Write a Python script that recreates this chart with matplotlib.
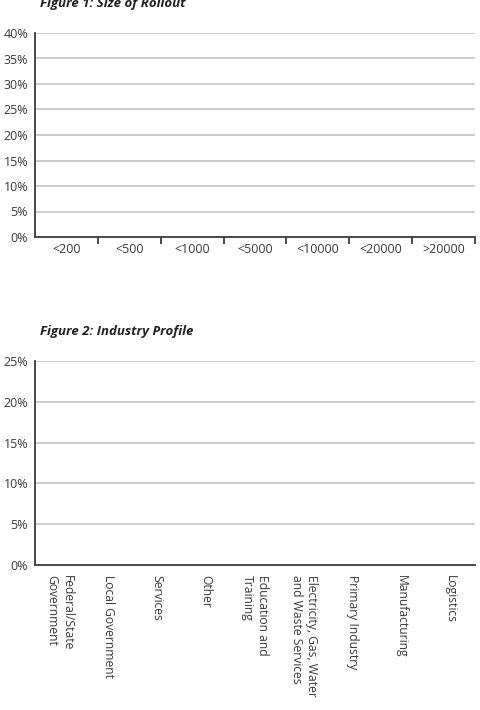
import matplotlib
matplotlib.use("Agg")
import matplotlib.pyplot as plt
import numpy as np

plt.rcParams['font.family'] = ['Open Sans', 'DejaVu Sans']

# Figure 1 data
rollout_categories = ["<200", "<500", "<1000", "<5000", "<10000", "<20000", ">20000"]
rollout_values = [0, 0, 0, 0, 0, 0, 0]
rollout_yticks = [0, 5, 10, 15, 20, 25, 30, 35, 40]

# Figure 2 data
industry_categories = ["Federal/State\nGovernment", "Local Government", "Services", "Other",
                       "Education and\nTraining", "Electricity, Gas, Water\nand Waste Services",
                       "Primary Industry", "Manufacturing", "Logistics"]
industry_values = [0, 0, 0, 0, 0, 0, 0, 0, 0]
industry_yticks = [0, 5, 10, 15, 20, 25]

W, H = 480, 710
fig = plt.figure(figsize=(W / 100, H / 100), dpi=100)

text_col = "#3a3a3a"
spine_col = "#3a3a3a"
grid_col = "#c8c8c8"

def setup(ax, yticks):
    ax.set_ylim(0, yticks[-1])
    ax.set_yticks(yticks)
    ax.set_yticklabels([f"{t}%" for t in yticks], fontsize=9, color=text_col)
    for t in yticks[1:]:
        ax.axhline(t, color=grid_col, lw=1.3, zorder=0)
    for s in ["top", "right"]:
        ax.spines[s].set_visible(False)
    for s in ["left", "bottom"]:
        ax.spines[s].set_color(spine_col)
        ax.spines[s].set_linewidth(1.3)
    ax.tick_params(axis="y", length=0, pad=5)

# Figure 1
ax1 = fig.add_axes([35 / W, 1 - 237 / H, 440 / W, 204 / H])
x1 = np.arange(len(rollout_categories))
ax1.bar(x1, rollout_values, width=0.6, color="#4a6fa5")
ax1.set_xlim(-0.5, len(rollout_categories) - 0.5)
setup(ax1, rollout_yticks)
ax1.set_xticks(x1)
ax1.set_xticklabels(rollout_categories, fontsize=9, color=text_col)
ax1.set_xticks(np.arange(0.5, len(rollout_categories)), minor=True)
ax1.tick_params(axis="x", which="major", length=0, pad=4)
ax1.tick_params(axis="x", which="minor", length=5, width=1.3, color=spine_col, direction="out")
fig.text(40 / W, 1 - 3 / H, "Figure 1: Size of Rollout", fontsize=9.5, fontweight="bold",
         fontstyle="italic", color="#222222", va="center", ha="left")

# Figure 2
ax2 = fig.add_axes([35 / W, 1 - 565 / H, 440 / W, 204 / H])
x2 = np.arange(len(industry_categories))
ax2.bar(x2, industry_values, width=0.6, color="#4a6fa5")
ax2.set_xlim(-0.5, len(industry_categories) - 0.5)
setup(ax2, industry_yticks)
ax2.set_xticks(x2)
ax2.set_xticklabels(industry_categories, fontsize=8.7, color=text_col, rotation=270,
                    va="top", ha="center", multialignment="left")
ax2.tick_params(axis="x", length=0, pad=7)
fig.text(40 / W, 1 - 331 / H, "Figure 2: Industry Profile", fontsize=9.5, fontweight="bold",
         fontstyle="italic", color="#222222", va="center", ha="left")

fig.savefig("out.png", dpi=100)
